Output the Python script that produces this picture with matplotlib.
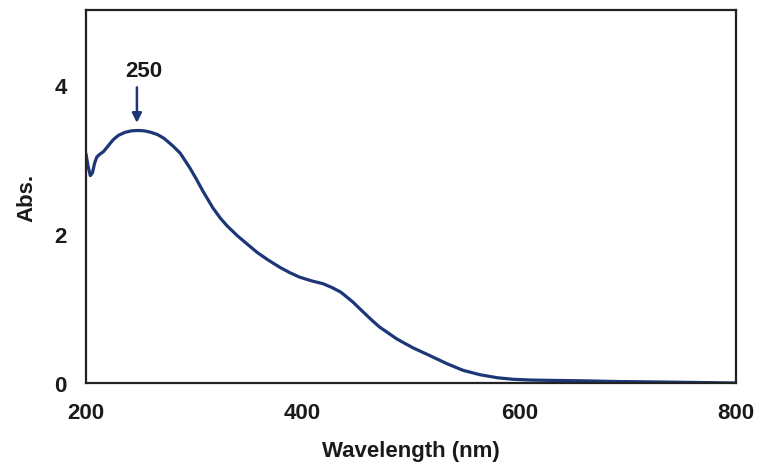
import matplotlib
matplotlib.use("Agg")
import matplotlib.pyplot as plt

# Data
wavelength = [200, 202, 204, 206, 208, 210, 213, 216, 220, 225, 230, 236, 242, 248,
              254, 260, 266, 272, 280, 287, 296, 302, 308, 317, 324, 330, 340, 349,
              358, 368, 379, 388, 397, 408, 419, 427, 435, 446, 456, 464, 471, 480,
              487, 502, 517, 533, 548, 564, 580, 594, 610, 630, 656, 690, 720, 748,
              775, 800]
absorbance = [3.07, 2.90, 2.78, 2.82, 2.95, 3.03, 3.07, 3.10, 3.17, 3.26, 3.32, 3.36, 3.38, 3.385,
              3.38, 3.36, 3.33, 3.28, 3.18, 3.08, 2.88, 2.73, 2.57, 2.35, 2.21, 2.11, 1.97, 1.86,
              1.75, 1.65, 1.55, 1.48, 1.42, 1.37, 1.33, 1.28, 1.22, 1.09, 0.95, 0.84, 0.75, 0.66,
              0.59, 0.47, 0.37, 0.26, 0.17, 0.11, 0.07, 0.05, 0.04, 0.035, 0.03, 0.02, 0.015, 0.01,
              0.005, 0.0]

xticks = [200, 400, 600, 800]
yticks = [0, 2, 4]
peak_label = "250"
peak_x = 247
peak_y = 3.45
arrow_top = 4.0

plt.rcParams['font.family'] = ['Liberation Sans', 'DejaVu Sans']
plt.rcParams['font.weight'] = 'bold'

fig = plt.figure(figsize=(7.57, 4.64), dpi=100)
ax = fig.add_axes([0.1136, 0.1724, 0.8587, 0.8039])

ax.plot(wavelength, absorbance, color='#1c3677', lw=2.3, solid_capstyle='round',
        solid_joinstyle='round')

ax.set_xlim(200, 800)
ax.set_ylim(0, 5)
ax.set_xticks(xticks)
ax.set_yticks(yticks)
ax.tick_params(length=0, labelsize=16)
ax.tick_params(axis='x', pad=14)
ax.tick_params(axis='y', pad=14)
for lbl in ax.get_xticklabels() + ax.get_yticklabels():
    lbl.set_fontweight('bold')
    lbl.set_color('#1a1a1a')
for s in ax.spines.values():
    s.set_linewidth(1.6)
    s.set_color('#222222')

ax.set_xlabel('Wavelength (nm)', fontsize=16, fontweight='bold', labelpad=12, color='#1a1a1a')
ax.set_ylabel('Abs.', fontsize=16, fontweight='bold', labelpad=12, color='#1a1a1a')

ax.annotate('', xy=(peak_x, peak_y), xytext=(peak_x, arrow_top),
            arrowprops=dict(arrowstyle='-|>', color='#1c3677', lw=1.8, mutation_scale=14))
ax.text(peak_x + 6, arrow_top + 0.19, peak_label, ha='center', va='center',
        fontsize=16, fontweight='bold', color='#1a1a1a')

fig.savefig('out.png', dpi=100)
